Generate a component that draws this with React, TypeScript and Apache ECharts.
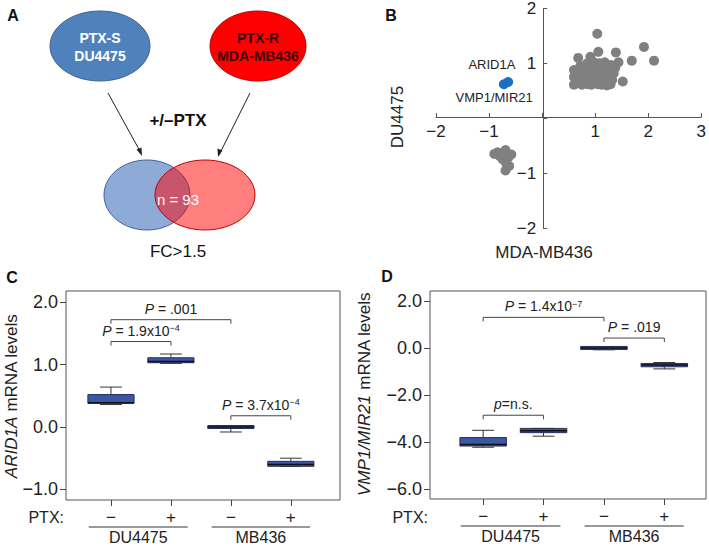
import React, { useEffect, useRef } from "react";
import * as echarts from "echarts";

const FONT = "'Liberation Sans', Arial, sans-serif";

// ---------- Panel B data ----------
const B_GRAY_UP: number[][] = [
  [1.04, 1.54], [1.92, 1.3], [2.11, 1.05], [1.69, 1.05], [1.39, 1.2], [1.06, 1.21],
  [0.68, 1.1], [0.91, 1.12], [1.44, 1.02], [1.52, 0.67],
  [0.6, 0.61], [0.75, 0.61], [0.93, 0.61], [1.12, 0.61], [1.29, 0.62],
  [0.6, 0.75], [0.6, 0.88], [0.7, 0.7], [0.7, 0.85], [0.72, 0.95],
  [0.8, 0.65], [0.8, 0.78], [0.82, 0.9], [0.85, 1.0],
  [0.9, 0.7], [0.92, 0.85], [0.95, 0.95], [0.98, 1.02],
  [1.0, 0.65], [1.02, 0.78], [1.05, 0.9], [1.08, 1.0],
  [1.1, 0.7], [1.12, 0.82], [1.15, 0.95], [1.18, 1.02],
  [1.2, 0.65], [1.22, 0.75], [1.25, 0.88], [1.3, 0.97],
  [1.32, 0.7], [1.35, 0.82], [1.38, 0.92],
  [0.66, 0.65], [0.86, 0.62], [1.05, 0.62], [1.22, 0.6],
  [0.78, 0.72], [0.97, 0.76], [1.16, 0.72],
  [0.88, 0.8], [1.08, 0.8], [1.28, 0.8], [0.75, 0.82], [0.65, 0.8],
  [1.0, 0.88], [0.9, 0.92], [1.2, 0.92], [1.1, 0.95],
];
const B_GRAY_DOWN: number[][] = [
  [-0.9, -0.65], [-0.69, -0.58], [-0.58, -0.66], [-0.8, -0.69], [-0.68, -0.81],
  [-0.62, -0.87], [-0.69, -0.95], [-0.74, -0.75], [-0.84, -0.62], [-0.64, -0.72],
];
const B_BLUE: number[][] = [[-0.72, 0.62], [-0.64, 0.66]];
const B_BLUE_NAMES = ["ARID1A", "VMP1/MIR21"];
const B_X_RANGE = [-2, 3];
const B_Y_RANGE = [-2, 2];

// ---------- Panel C data ----------
const GROUP_X = [1, 2, 3, 4];
const PTX_SIGNS = ["−", "+", "−", "+"];
const GROUP_NAMES = ["DU4475", "MB436"];
const GROUP_SPANS = [[0.63, 2.28], [2.68, 4.32]];

const C_MIN = [0.36, 1.02, -0.08, -0.63];
const C_Q1 = [0.38, 1.03, -0.02, -0.63];
const C_MED = [0.39, 1.05, 0.0, -0.6];
const C_Q3 = [0.52, 1.11, 0.01, -0.55];
const C_MAX = [0.64, 1.17, 0.01, -0.5];
const C_Y_TICKS = [-1, 0, 1, 2];
const C_BR_X1 = [1, 1, 3];
const C_BR_X2 = [3, 2, 4];
const C_BR_Y = [1.72, 1.37, 0.18];
const C_BR_TEXT = ["{i|P} = .001", "{i|P} = 1.9x10{s|−4}", "{i|P} = 3.7x10{s|−4}"];

// ---------- Panel D data ----------
const D_MIN = [-4.22, -3.75, -0.08, -0.89];
const D_Q1 = [-4.17, -3.6, -0.04, -0.8];
const D_MED = [-4.1, -3.52, 0.0, -0.73];
const D_Q3 = [-3.81, -3.42, 0.03, -0.66];
const D_MAX = [-3.5, -3.42, 0.03, -0.62];
const D_Y_TICKS = [-6, -4, -2, 0, 2];
const D_BR_X1 = [1, 3, 1];
const D_BR_X2 = [3, 4, 2];
const D_BR_Y = [1.3, 0.42, -2.86];
const D_BR_TEXT = ["{i|P} = 1.4x10{s|−7}", "{i|P} = .019", "{i|p}=n.s."];

const minus = (s: string) => s.replace("-", "−");

const richP = {
  i: { fontStyle: "italic", fontSize: 14, fontFamily: FONT, fill: "#222", color: "#222" },
  s: { fontSize: 9, fontFamily: FONT, verticalAlign: "top", lineHeight: 9, fill: "#222", color: "#222" },
};

function boxRender(params: any, api: any) {
  const x = api.value(0);
  const pMin = api.coord([x, api.value(1)]);
  const pQ1 = api.coord([x, api.value(2)]);
  const pMed = api.coord([x, api.value(3)]);
  const pQ3 = api.coord([x, api.value(4)]);
  const pMax = api.coord([x, api.value(5)]);
  const bw = api.size([1, 0])[0] * 0.77;
  const cw = bw * 0.47;
  const cx = pMed[0];
  const ls = { stroke: "#333", lineWidth: 1 };
  const h = Math.max(pQ1[1] - pQ3[1], 3);
  const top = pQ1[1] - pQ3[1] < 3 ? pMed[1] - 1.5 : pQ3[1];
  return {
    type: "group",
    children: [
      { type: "line", shape: { x1: cx, y1: pQ3[1], x2: cx, y2: pMax[1] }, style: ls },
      { type: "line", shape: { x1: cx - cw / 2, y1: pMax[1], x2: cx + cw / 2, y2: pMax[1] }, style: ls },
      { type: "line", shape: { x1: cx, y1: pQ1[1], x2: cx, y2: pMin[1] }, style: ls },
      { type: "line", shape: { x1: cx - cw / 2, y1: pMin[1], x2: cx + cw / 2, y2: pMin[1] }, style: ls },
      {
        type: "rect",
        shape: { x: cx - bw / 2, y: top, width: bw, height: h },
        style: { fill: "#3d56a6", stroke: "#27305e", lineWidth: 1 },
      },
      { type: "line", shape: { x1: cx - bw / 2, y1: pMed[1], x2: cx + bw / 2, y2: pMed[1] }, style: { stroke: "#111", lineWidth: 1.5 } },
    ],
  };
}

function bracketRender(texts: string[]) {
  return (params: any, api: any) => {
    const a = api.coord([api.value(0), api.value(2)]);
    const b = api.coord([api.value(1), api.value(2)]);
    const idx = api.value(3);
    return {
      type: "group",
      children: [
        {
          type: "polyline",
          shape: { points: [[a[0], a[1] + 4], [a[0], a[1]], [b[0], b[1]], [b[0], b[1] + 4]] },
          style: { stroke: "#444", fill: "none", lineWidth: 1 },
        },
        {
          type: "text",
          x: (a[0] + b[0]) / 2,
          y: a[1] - 11,
          style: {
            text: texts[idx],
            fontSize: 14,
            fontFamily: FONT,
            fill: "#222",
            align: "center",
            verticalAlign: "middle",
            rich: richP,
          },
        },
      ],
    };
  };
}

function groupRender(params: any, api: any) {
  const a = api.coord([api.value(0), 0]);
  const b = api.coord([api.value(1), 0]);
  const bottom = params.coordSys.y + params.coordSys.height;
  const idx = api.value(2);
  return {
    type: "group",
    children: [
      { type: "line", shape: { x1: a[0], y1: bottom + 27, x2: b[0], y2: bottom + 27 }, style: { stroke: "#333", lineWidth: 1 } },
      {
        type: "text",
        x: (a[0] + b[0]) / 2,
        y: bottom + 37,
        style: { text: GROUP_NAMES[idx], fontSize: 16, fontFamily: FONT, fill: "#222", align: "center", verticalAlign: "middle" },
      },
    ],
  };
}

function boxData(mn: number[], q1: number[], md: number[], q3: number[], mx: number[]) {
  return GROUP_X.map((x, i) => [x, mn[i], q1[i], md[i], q3[i], mx[i]]);
}

function boxXAxis(gridIndex: number, min: number, max: number) {
  return {
    gridIndex,
    type: "value",
    min,
    max,
    axisLine: { show: false, onZero: false },
    splitLine: { show: false },
    axisTick: { show: true, customValues: GROUP_X, length: 6, lineStyle: { color: "#444" } },
    axisLabel: {
      customValues: GROUP_X,
      formatter: (v: number) => PTX_SIGNS[Math.round(v) - 1] || "",
      fontSize: 17,
      fontFamily: FONT,
      color: "#222",
      margin: 9,
    },
  };
}

function boxYAxis(gridIndex: number, min: number, max: number, ticks: number[]) {
  return {
    gridIndex,
    type: "value",
    min,
    max,
    axisLine: { show: false, onZero: false },
    splitLine: { show: false },
    axisTick: { show: true, customValues: ticks, length: 6, lineStyle: { color: "#444" } },
    axisLabel: {
      customValues: ticks,
      formatter: (v: number) => minus(v.toFixed(1)),
      fontSize: 18,
      fontFamily: FONT,
      color: "#222",
      margin: 8,
    },
  };
}

function txt(x: number, y: number, text: string, extra: any = {}, rot = 0) {
  return {
    type: "text",
    x,
    y,
    rotation: rot,
    style: {
      text,
      fontSize: 15,
      fontFamily: FONT,
      fill: "#222",
      align: "center",
      verticalAlign: "middle",
      textAlign: "center",
      textVerticalAlign: "middle",
      ...extra,
    },
  };
}

export default function App() {
  const ref = useRef<HTMLDivElement>(null);
  useEffect(() => {
    if (!ref.current) return;
    const chart = echarts.init(ref.current, null, { renderer: "svg" });
    const bLabelFmt = (v: number) => (v === 0 ? "" : minus(String(v)));
    const bGrid = { left: 436, top: 6, width: 268, height: 222 };
    // place the crossing axes at the data zero of the other axis (from the scale)
    const xOffset = -((0 - B_Y_RANGE[0]) / (B_Y_RANGE[1] - B_Y_RANGE[0])) * bGrid.height;
    const yOffset = -((0 - B_X_RANGE[0]) / (B_X_RANGE[1] - B_X_RANGE[0])) * bGrid.width;
    const option: any = {
      animation: false,
      backgroundColor: "#fff",
      grid: [
        bGrid,
        { left: 66, top: 291, width: 274, height: 209, show: true, borderColor: "#555", borderWidth: 1 },
        { left: 430, top: 291, width: 276, height: 208, show: true, borderColor: "#555", borderWidth: 1 },
      ],
      xAxis: [
        {
          gridIndex: 0,
          type: "value",
          min: B_X_RANGE[0],
          max: B_X_RANGE[1],
          interval: 1,
          position: "bottom",
          offset: xOffset,
          axisLine: { onZero: false, lineStyle: { color: "#555" } },
          axisTick: { show: true, inside: true, length: 4, lineStyle: { color: "#555" } },
          axisLabel: { formatter: bLabelFmt, fontSize: 17, fontFamily: FONT, color: "#222", margin: 6 },
          splitLine: { show: false },
        },
        boxXAxis(1, 0.25, 4.82),
        boxXAxis(2, 0.12, 4.69),
      ],
      yAxis: [
        {
          gridIndex: 0,
          type: "value",
          min: B_Y_RANGE[0],
          max: B_Y_RANGE[1],
          interval: 1,
          position: "left",
          offset: yOffset,
          axisLine: { onZero: false, lineStyle: { color: "#555" } },
          axisTick: { show: true, inside: true, length: 4, lineStyle: { color: "#555" } },
          axisLabel: { formatter: bLabelFmt, fontSize: 17, fontFamily: FONT, color: "#222", margin: 7 },
          splitLine: { show: false },
        },
        boxYAxis(1, -1.17, 2.18, C_Y_TICKS),
        boxYAxis(2, -6.42, 2.42, D_Y_TICKS),
      ],
      series: [
        {
          type: "scatter",
          xAxisIndex: 0,
          yAxisIndex: 0,
          symbolSize: 10,
          itemStyle: { color: "#808080", opacity: 1 },
          data: [...B_GRAY_UP, ...B_GRAY_DOWN],
        },
        {
          type: "scatter",
          xAxisIndex: 0,
          yAxisIndex: 0,
          symbolSize: 10,
          itemStyle: { color: "#1c6cc0", opacity: 1 },
          data: B_BLUE.map((p, i) => ({
            value: p,
            label: {
              show: true,
              formatter: B_BLUE_NAMES[i],
              position: "inside",
              offset: i === 0 ? [-12, -20] : [-14, 15],
              fontSize: 13,
              fontFamily: FONT,
              color: "#222",
            },
          })),
        },
        {
          type: "custom",
          xAxisIndex: 1,
          yAxisIndex: 1,
          renderItem: boxRender,
          encode: { x: 0, y: [1, 2, 3, 4, 5] },
          data: boxData(C_MIN, C_Q1, C_MED, C_Q3, C_MAX),
          z: 3,
        },
        {
          type: "custom",
          xAxisIndex: 2,
          yAxisIndex: 2,
          renderItem: boxRender,
          encode: { x: 0, y: [1, 2, 3, 4, 5] },
          data: boxData(D_MIN, D_Q1, D_MED, D_Q3, D_MAX),
          z: 3,
        },
        {
          type: "custom",
          xAxisIndex: 1,
          yAxisIndex: 1,
          renderItem: bracketRender(C_BR_TEXT),
          data: C_BR_Y.map((y, i) => [C_BR_X1[i], C_BR_X2[i], y, i]),
          encode: { x: [0, 1], y: 2 },
        },
        {
          type: "custom",
          xAxisIndex: 2,
          yAxisIndex: 2,
          renderItem: bracketRender(D_BR_TEXT),
          data: D_BR_Y.map((y, i) => [D_BR_X1[i], D_BR_X2[i], y, i]),
          encode: { x: [0, 1], y: 2 },
        },
        {
          type: "custom",
          xAxisIndex: 1,
          yAxisIndex: 1,
          renderItem: groupRender,
          clip: false,
          data: GROUP_SPANS.map((s, i) => [s[0], s[1], i]),
          encode: { x: [0, 1] },
        },
        {
          type: "custom",
          xAxisIndex: 2,
          yAxisIndex: 2,
          renderItem: groupRender,
          clip: false,
          data: GROUP_SPANS.map((s, i) => [s[0], s[1], i]),
          encode: { x: [0, 1] },
        },
      ],
      graphic: [
        // panel letters
        txt(13, 15, "A", { fontWeight: "bold", fontSize: 16, fill: "#111" }),
        txt(391, 15, "B", { fontWeight: "bold", fontSize: 16, fill: "#111" }),
        txt(12, 277, "C", { fontWeight: "bold", fontSize: 16, fill: "#111" }),
        txt(387, 276, "D", { fontWeight: "bold", fontSize: 16, fill: "#111" }),
        // Panel A
        { type: "ellipse", shape: { cx: 100, cy: 46, rx: 50, ry: 35 }, style: { fill: "#4f81bd", stroke: "#3a6595", lineWidth: 1 } },
        { type: "ellipse", shape: { cx: 258, cy: 46, rx: 48, ry: 35 }, style: { fill: "#ff0000", stroke: "#c00000", lineWidth: 1 } },
        txt(100, 38, "PTX-S", { fontWeight: "bold", fontSize: 14, fill: "#ffffff" }),
        txt(100, 56, "DU4475", { fontWeight: "bold", fontSize: 14, fill: "#ffffff" }),
        txt(258, 38, "PTX-R", { fontWeight: "bold", fontSize: 14, fill: "#3a0000" }),
        txt(258, 56, "MDA-MB436", { fontWeight: "bold", fontSize: 14, fill: "#3a0000" }),
        { type: "line", shape: { x1: 108, y1: 93, x2: 141, y2: 153 }, style: { stroke: "#222", lineWidth: 1 } },
        { type: "polygon", shape: { points: [[142, 156], [136.5, 149.5], [141.5, 147.5]] }, style: { fill: "#222" } },
        { type: "line", shape: { x1: 250, y1: 93, x2: 219, y2: 155 }, style: { stroke: "#222", lineWidth: 1 } },
        { type: "polygon", shape: { points: [[218, 157], [217.5, 148.5], [222.5, 150.5]] }, style: { fill: "#222" } },
        txt(178, 120, "+/–PTX", { fontWeight: "bold", fontSize: 17, fill: "#111" }),
        { type: "ellipse", shape: { cx: 147, cy: 195, rx: 43, ry: 35 }, style: { fill: "#8eaad6", stroke: "#3a6595", lineWidth: 1 } },
        { type: "ellipse", shape: { cx: 205, cy: 195, rx: 50, ry: 35 }, style: { fill: "rgba(255,0,0,0.5)", stroke: "#c00000", lineWidth: 1 } },
        txt(178, 199, "n = 93", { fontSize: 15, fill: "#ffffff" }),
        txt(178, 251, "FC>1.5", { fontSize: 17, fill: "#111" }),
        // Panel B axis titles
        txt(544, 252, "MDA-MB436", { fontSize: 17 }),
        txt(397, 117, "DU4475", { fontSize: 17 }, Math.PI / 2),
        // Panel C / D axis titles and PTX row
        txt(11, 396, "{i|ARID1A} mRNA levels", {
          fontSize: 17,
          rich: { i: { fontStyle: "italic", fontSize: 17, fontFamily: FONT, fill: "#222" } },
        }, Math.PI / 2),
        txt(364, 394, "{i|VMP1/MIR21} mRNA levels", {
          fontSize: 17,
          rich: { i: { fontStyle: "italic", fontSize: 17, fontFamily: FONT, fill: "#222" } },
        }, Math.PI / 2),
        txt(64, 517, "PTX:", { fontSize: 16, align: "right", textAlign: "right" }),
        txt(428, 517, "PTX:", { fontSize: 16, align: "right", textAlign: "right" }),
      ],
    };
    chart.setOption(option);
    return () => chart.dispose();
  }, []);
  return (
    <div
      ref={ref}
      style={{ position: "fixed", left: 0, top: 0, width: 709, height: 546, background: "#fff" }}
    />
  );
}
